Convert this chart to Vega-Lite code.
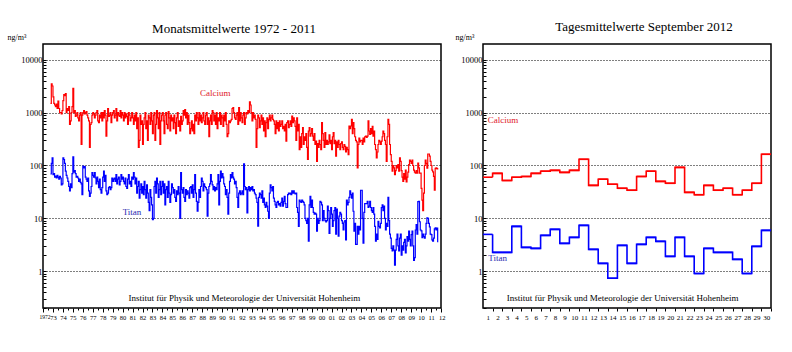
{
"$schema":"https://vega.github.io/schema/vega-lite/v6.json",
"background":"white",
"padding":{"left":6,"top":20,"right":4,"bottom":4},
"spacing":42,
"bounds":"flush",
"config":{"font":"Liberation Serif","view":{"stroke":"black","strokeWidth":1.5},
"title":{"font":"Liberation Serif","fontSize":13,"fontWeight":"normal","baseline":"alphabetic","anchor":"middle","frame":"group","color":"black"},
"axis":{"labelFont":"Liberation Serif","titleFont":"Liberation Serif","labelColor":"black","tickColor":"black","titleColor":"black"},
"axisX":{"labelOverlap":false},
"text":{"font":"Liberation Serif"}},
"datasets":{
"monthly":[
{"d":"1972-10","ca":1500,"ti":69},{"d":"1972-11","ca":3500,"ti":110},{"d":"1972-12","ca":3200,"ti":140},
{"d":"1973-01","ca":2000,"ti":67},{"d":"1973-02","ca":1500,"ti":70},{"d":"1973-03","ca":1400,"ti":60},{"d":"1973-04","ca":1300,"ti":63},{"d":"1973-05","ca":1450,"ti":58},{"d":"1973-06","ca":1200,"ti":65},{"d":"1973-07","ca":1650,"ti":60},{"d":"1973-08","ca":1200,"ti":55},{"d":"1973-09","ca":1000,"ti":62},{"d":"1973-10","ca":1000,"ti":58},{"d":"1973-11","ca":950,"ti":43},{"d":"1973-12","ca":1100,"ti":45},
{"d":"1974-01","ca":1700,"ti":140},{"d":"1974-02","ca":2200,"ti":130},{"d":"1974-03","ca":2100,"ti":110},{"d":"1974-04","ca":2300,"ti":78},{"d":"1974-05","ca":1000,"ti":65},{"d":"1974-06","ca":1200,"ti":58},{"d":"1974-07","ca":1100,"ti":50},{"d":"1974-08","ca":1300,"ti":40},{"d":"1974-09","ca":600,"ti":33},{"d":"1974-10","ca":700,"ti":45},{"d":"1974-11","ca":1000,"ti":38},{"d":"1974-12","ca":1300,"ti":70},
{"d":"1975-01","ca":2900,"ti":145},{"d":"1975-02","ca":1000,"ti":75},{"d":"1975-03","ca":1100,"ti":80},{"d":"1975-04","ca":850,"ti":70},{"d":"1975-05","ca":900,"ti":60},{"d":"1975-06","ca":1000,"ti":62},{"d":"1975-07","ca":800,"ti":58},{"d":"1975-08","ca":700,"ti":50},{"d":"1975-09","ca":900,"ti":55},{"d":"1975-10","ca":1000,"ti":48},{"d":"1975-11","ca":250,"ti":45},{"d":"1975-12","ca":900,"ti":28},
{"d":"1976-01","ca":1000,"ti":97},{"d":"1976-02","ca":1100,"ti":90},{"d":"1976-03","ca":950,"ti":95},{"d":"1976-04","ca":1000,"ti":60},{"d":"1976-05","ca":1050,"ti":55},{"d":"1976-06","ca":900,"ti":50},{"d":"1976-07","ca":800,"ti":58},{"d":"1976-08","ca":700,"ti":33},{"d":"1976-09","ca":220,"ti":26},{"d":"1976-10","ca":600,"ti":30},{"d":"1976-11","ca":650,"ti":40},{"d":"1976-12","ca":900,"ti":73},
{"d":"1977-01","ca":1000,"ti":65},{"d":"1977-02","ca":950,"ti":60},{"d":"1977-03","ca":800,"ti":73},{"d":"1977-04","ca":900,"ti":58},{"d":"1977-05","ca":1000,"ti":45},{"d":"1977-06","ca":1100,"ti":60},{"d":"1977-07","ca":700,"ti":50},{"d":"1977-08","ca":650,"ti":38},{"d":"1977-09","ca":900,"ti":55},{"d":"1977-10","ca":800,"ti":35},{"d":"1977-11","ca":1000,"ti":30},{"d":"1977-12","ca":700,"ti":38},
{"d":"1978-01","ca":1000,"ti":60},{"d":"1978-02","ca":800,"ti":78},{"d":"1978-03","ca":1100,"ti":50},{"d":"1978-04","ca":900,"ti":65},{"d":"1978-05","ca":360,"ti":33},{"d":"1978-06","ca":700,"ti":28},{"d":"1978-07","ca":1200,"ti":30},{"d":"1978-08","ca":850,"ti":38},{"d":"1978-09","ca":900,"ti":40},{"d":"1978-10","ca":1000,"ti":35},{"d":"1978-11","ca":650,"ti":38},{"d":"1978-12","ca":900,"ti":58},
{"d":"1979-01","ca":1000,"ti":50},{"d":"1979-02","ca":1100,"ti":55},{"d":"1979-03","ca":800,"ti":58},{"d":"1979-04","ca":900,"ti":50},{"d":"1979-05","ca":1200,"ti":67},{"d":"1979-06","ca":700,"ti":45},{"d":"1979-07","ca":1000,"ti":55},{"d":"1979-08","ca":900,"ti":60},{"d":"1979-09","ca":850,"ti":43},{"d":"1979-10","ca":1100,"ti":50},{"d":"1979-11","ca":800,"ti":67},{"d":"1979-12","ca":1000,"ti":55},
{"d":"1980-01","ca":900,"ti":60},{"d":"1980-02","ca":700,"ti":50},{"d":"1980-03","ca":1000,"ti":45},{"d":"1980-04","ca":800,"ti":58},{"d":"1980-05","ca":950,"ti":40},{"d":"1980-06","ca":850,"ti":37},{"d":"1980-07","ca":600,"ti":55},{"d":"1980-08","ca":1000,"ti":67},{"d":"1980-09","ca":900,"ti":45},{"d":"1980-10","ca":700,"ti":50},{"d":"1980-11","ca":800,"ti":40},{"d":"1980-12","ca":1000,"ti":60},
{"d":"1981-01","ca":800,"ti":55},{"d":"1981-02","ca":600,"ti":73},{"d":"1981-03","ca":900,"ti":60},{"d":"1981-04","ca":700,"ti":45},{"d":"1981-05","ca":1000,"ti":58},{"d":"1981-06","ca":500,"ti":30},{"d":"1981-07","ca":800,"ti":40},{"d":"1981-08","ca":220,"ti":50},{"d":"1981-09","ca":300,"ti":24},{"d":"1981-10","ca":900,"ti":35},{"d":"1981-11","ca":600,"ti":45},{"d":"1981-12","ca":700,"ti":30},
{"d":"1982-01","ca":250,"ti":40},{"d":"1982-02","ca":600,"ti":28},{"d":"1982-03","ca":800,"ti":50},{"d":"1982-04","ca":1000,"ti":35},{"d":"1982-05","ca":500,"ti":24},{"d":"1982-06","ca":700,"ti":43},{"d":"1982-07","ca":300,"ti":30},{"d":"1982-08","ca":900,"ti":20},{"d":"1982-09","ca":800,"ti":14},{"d":"1982-10","ca":600,"ti":35},{"d":"1982-11","ca":1000,"ti":25},{"d":"1982-12","ca":700,"ti":18},
{"d":"1983-01","ca":400,"ti":9.4},{"d":"1983-02","ca":900,"ti":10},{"d":"1983-03","ca":1000,"ti":40},{"d":"1983-04","ca":300,"ti":50},{"d":"1983-05","ca":600,"ti":30},{"d":"1983-06","ca":1100,"ti":58},{"d":"1983-07","ca":800,"ti":45},{"d":"1983-08","ca":500,"ti":25},{"d":"1983-09","ca":1000,"ti":35},{"d":"1983-10","ca":250,"ti":50},{"d":"1983-11","ca":700,"ti":28},{"d":"1983-12","ca":900,"ti":40},
{"d":"1984-01","ca":1000,"ti":50},{"d":"1984-02","ca":700,"ti":30},{"d":"1984-03","ca":400,"ti":45},{"d":"1984-04","ca":900,"ti":18},{"d":"1984-05","ca":1000,"ti":35},{"d":"1984-06","ca":600,"ti":40},{"d":"1984-07","ca":500,"ti":25},{"d":"1984-08","ca":1050,"ti":50},{"d":"1984-09","ca":800,"ti":30},{"d":"1984-10","ca":450,"ti":20},{"d":"1984-11","ca":900,"ti":28},{"d":"1984-12","ca":700,"ti":45},
{"d":"1985-01","ca":800,"ti":38},{"d":"1985-02","ca":500,"ti":30},{"d":"1985-03","ca":900,"ti":35},{"d":"1985-04","ca":650,"ti":25},{"d":"1985-05","ca":400,"ti":21},{"d":"1985-06","ca":800,"ti":33},{"d":"1985-07","ca":1000,"ti":28},{"d":"1985-08","ca":550,"ti":40},{"d":"1985-09","ca":700,"ti":30},{"d":"1985-10","ca":450,"ti":10},{"d":"1985-11","ca":850,"ti":73},{"d":"1985-12","ca":600,"ti":35},
{"d":"1986-01","ca":700,"ti":30},{"d":"1986-02","ca":1100,"ti":38},{"d":"1986-03","ca":900,"ti":25},{"d":"1986-04","ca":1150,"ti":21},{"d":"1986-05","ca":800,"ti":35},{"d":"1986-06","ca":1000,"ti":28},{"d":"1986-07","ca":600,"ti":33},{"d":"1986-08","ca":900,"ti":30},{"d":"1986-09","ca":650,"ti":24},{"d":"1986-10","ca":400,"ti":38},{"d":"1986-11","ca":500,"ti":40},{"d":"1986-12","ca":700,"ti":30},
{"d":"1987-01","ca":450,"ti":43},{"d":"1987-02","ca":600,"ti":25},{"d":"1987-03","ca":400,"ti":35},{"d":"1987-04","ca":900,"ti":67},{"d":"1987-05","ca":700,"ti":30},{"d":"1987-06","ca":1000,"ti":21},{"d":"1987-07","ca":800,"ti":13.6},{"d":"1987-08","ca":600,"ti":20},{"d":"1987-09","ca":1000,"ti":35},{"d":"1987-10","ca":700,"ti":25},{"d":"1987-11","ca":900,"ti":40},{"d":"1987-12","ca":650,"ti":58},
{"d":"1988-01","ca":800,"ti":50},{"d":"1988-02","ca":1000,"ti":33},{"d":"1988-03","ca":700,"ti":45},{"d":"1988-04","ca":600,"ti":40},{"d":"1988-05","ca":900,"ti":38},{"d":"1988-06","ca":1000,"ti":35},{"d":"1988-07","ca":600,"ti":11},{"d":"1988-08","ca":800,"ti":30},{"d":"1988-09","ca":350,"ti":40},{"d":"1988-10","ca":700,"ti":45},{"d":"1988-11","ca":900,"ti":67},{"d":"1988-12","ca":600,"ti":50},
{"d":"1989-01","ca":1100,"ti":43},{"d":"1989-02","ca":1000,"ti":35},{"d":"1989-03","ca":700,"ti":40},{"d":"1989-04","ca":900,"ti":33},{"d":"1989-05","ca":600,"ti":38},{"d":"1989-06","ca":1000,"ti":35},{"d":"1989-07","ca":500,"ti":45},{"d":"1989-08","ca":800,"ti":67},{"d":"1989-09","ca":700,"ti":18},{"d":"1989-10","ca":1000,"ti":50},{"d":"1989-11","ca":600,"ti":78},{"d":"1989-12","ca":900,"ti":58},
{"d":"1990-01","ca":800,"ti":70},{"d":"1990-02","ca":550,"ti":60},{"d":"1990-03","ca":900,"ti":45},{"d":"1990-04","ca":700,"ti":40},{"d":"1990-05","ca":1000,"ti":28},{"d":"1990-06","ca":600,"ti":35},{"d":"1990-07","ca":350,"ti":25},{"d":"1990-08","ca":400,"ti":12},{"d":"1990-09","ca":700,"ti":30},{"d":"1990-10","ca":650,"ti":50},{"d":"1990-11","ca":700,"ti":67},{"d":"1990-12","ca":750,"ti":58},
{"d":"1991-01","ca":1200,"ti":73},{"d":"1991-02","ca":1250,"ti":60},{"d":"1991-03","ca":1000,"ti":55},{"d":"1991-04","ca":800,"ti":45},{"d":"1991-05","ca":750,"ti":50},{"d":"1991-06","ca":900,"ti":38},{"d":"1991-07","ca":1000,"ti":25},{"d":"1991-08","ca":600,"ti":16},{"d":"1991-09","ca":1250,"ti":30},{"d":"1991-10","ca":700,"ti":33},{"d":"1991-11","ca":1000,"ti":28},{"d":"1991-12","ca":800,"ti":30},
{"d":"1992-01","ca":650,"ti":33},{"d":"1992-02","ca":900,"ti":28},{"d":"1992-03","ca":1000,"ti":107},{"d":"1992-04","ca":600,"ti":40},{"d":"1992-05","ca":800,"ti":35},{"d":"1992-06","ca":1000,"ti":38},{"d":"1992-07","ca":950,"ti":12.6},{"d":"1992-08","ca":1100,"ti":35},{"d":"1992-09","ca":1000,"ti":40},{"d":"1992-10","ca":1600,"ti":33},{"d":"1992-11","ca":1400,"ti":38},{"d":"1992-12","ca":1000,"ti":35},
{"d":"1993-01","ca":700,"ti":40},{"d":"1993-02","ca":1000,"ti":33},{"d":"1993-03","ca":800,"ti":35},{"d":"1993-04","ca":900,"ti":30},{"d":"1993-05","ca":750,"ti":28},{"d":"1993-06","ca":220,"ti":24},{"d":"1993-07","ca":500,"ti":20},{"d":"1993-08","ca":900,"ti":7.1},{"d":"1993-09","ca":800,"ti":25},{"d":"1993-10","ca":520,"ti":30},{"d":"1993-11","ca":700,"ti":28},{"d":"1993-12","ca":900,"ti":24},
{"d":"1994-01","ca":600,"ti":33},{"d":"1994-02","ca":800,"ti":20},{"d":"1994-03","ca":450,"ti":24},{"d":"1994-04","ca":700,"ti":18},{"d":"1994-05","ca":350,"ti":16},{"d":"1994-06","ca":650,"ti":20},{"d":"1994-07","ca":800,"ti":17},{"d":"1994-08","ca":500,"ti":13.6},{"d":"1994-09","ca":750,"ti":10},{"d":"1994-10","ca":900,"ti":30},{"d":"1994-11","ca":700,"ti":43},{"d":"1994-12","ca":800,"ti":38},
{"d":"1995-01","ca":900,"ti":33},{"d":"1995-02","ca":750,"ti":40},{"d":"1995-03","ca":700,"ti":24},{"d":"1995-04","ca":600,"ti":21},{"d":"1995-05","ca":400,"ti":18},{"d":"1995-06","ca":700,"ti":16},{"d":"1995-07","ca":500,"ti":20},{"d":"1995-08","ca":650,"ti":21},{"d":"1995-09","ca":450,"ti":18},{"d":"1995-10","ca":700,"ti":19},{"d":"1995-11","ca":550,"ti":17},{"d":"1995-12","ca":600,"ti":20},
{"d":"1996-01","ca":700,"ti":24},{"d":"1996-02","ca":500,"ti":17},{"d":"1996-03","ca":550,"ti":21},{"d":"1996-04","ca":450,"ti":26},{"d":"1996-05","ca":600,"ti":19},{"d":"1996-06","ca":290,"ti":16},{"d":"1996-07","ca":650,"ti":16},{"d":"1996-08","ca":700,"ti":28},{"d":"1996-09","ca":520,"ti":30},{"d":"1996-10","ca":600,"ti":29},{"d":"1996-11","ca":700,"ti":30},{"d":"1996-12","ca":550,"ti":28},
{"d":"1997-01","ca":860,"ti":33},{"d":"1997-02","ca":650,"ti":30},{"d":"1997-03","ca":800,"ti":33},{"d":"1997-04","ca":700,"ti":30},{"d":"1997-05","ca":550,"ti":29},{"d":"1997-06","ca":300,"ti":30},{"d":"1997-07","ca":800,"ti":16},{"d":"1997-08","ca":450,"ti":13},{"d":"1997-09","ca":600,"ti":7},{"d":"1997-10","ca":200,"ti":22},{"d":"1997-11","ca":350,"ti":21},{"d":"1997-12","ca":220,"ti":20},
{"d":"1998-01","ca":400,"ti":22},{"d":"1998-02","ca":520,"ti":21},{"d":"1998-03","ca":250,"ti":20},{"d":"1998-04","ca":350,"ti":18},{"d":"1998-05","ca":300,"ti":10},{"d":"1998-06","ca":400,"ti":9},{"d":"1998-07","ca":220,"ti":8},{"d":"1998-08","ca":130,"ti":10},{"d":"1998-09","ca":450,"ti":3.7},{"d":"1998-10","ca":520,"ti":18},{"d":"1998-11","ca":360,"ti":26},{"d":"1998-12","ca":400,"ti":16},
{"d":"1999-01","ca":500,"ti":22},{"d":"1999-02","ca":360,"ti":16},{"d":"1999-03","ca":300,"ti":13},{"d":"1999-04","ca":400,"ti":12},{"d":"1999-05","ca":250,"ti":12.5},{"d":"1999-06","ca":290,"ti":12},{"d":"1999-07","ca":120,"ti":5.7},{"d":"1999-08","ca":260,"ti":10},{"d":"1999-09","ca":220,"ti":8},{"d":"1999-10","ca":300,"ti":9},{"d":"1999-11","ca":250,"ti":21},{"d":"1999-12","ca":200,"ti":20},
{"d":"2000-01","ca":650,"ti":18},{"d":"2000-02","ca":400,"ti":9},{"d":"2000-03","ca":300,"ti":14},{"d":"2000-04","ca":220,"ti":10},{"d":"2000-05","ca":420,"ti":9},{"d":"2000-06","ca":250,"ti":8.5},{"d":"2000-07","ca":300,"ti":9},{"d":"2000-08","ca":250,"ti":17},{"d":"2000-09","ca":280,"ti":14},{"d":"2000-10","ca":380,"ti":5.2},{"d":"2000-11","ca":260,"ti":10},{"d":"2000-12","ca":300,"ti":16},
{"d":"2001-01","ca":200,"ti":12},{"d":"2001-02","ca":350,"ti":7},{"d":"2001-03","ca":420,"ti":9},{"d":"2001-04","ca":260,"ti":14},{"d":"2001-05","ca":300,"ti":16},{"d":"2001-06","ca":150,"ti":5},{"d":"2001-07","ca":280,"ti":15},{"d":"2001-08","ca":220,"ti":10},{"d":"2001-09","ca":300,"ti":4.6},{"d":"2001-10","ca":250,"ti":11},{"d":"2001-11","ca":200,"ti":13},{"d":"2001-12","ca":260,"ti":12},
{"d":"2002-01","ca":280,"ti":9},{"d":"2002-02","ca":220,"ti":8},{"d":"2002-03","ca":200,"ti":6},{"d":"2002-04","ca":250,"ti":8.5},{"d":"2002-05","ca":230,"ti":9},{"d":"2002-06","ca":180,"ti":3.9},{"d":"2002-07","ca":220,"ti":22},{"d":"2002-08","ca":200,"ti":18},{"d":"2002-09","ca":160,"ti":20},{"d":"2002-10","ca":560,"ti":25},{"d":"2002-11","ca":500,"ti":33},{"d":"2002-12","ca":560,"ti":28},
{"d":"2003-01","ca":750,"ti":24},{"d":"2003-02","ca":400,"ti":30},{"d":"2003-03","ca":650,"ti":13.6},{"d":"2003-04","ca":500,"ti":5.7},{"d":"2003-05","ca":350,"ti":8},{"d":"2003-06","ca":300,"ti":3.2},{"d":"2003-07","ca":280,"ti":3.2},{"d":"2003-08","ca":90,"ti":7},{"d":"2003-09","ca":250,"ti":5},{"d":"2003-10","ca":330,"ti":7},{"d":"2003-11","ca":280,"ti":6},{"d":"2003-12","ca":300,"ti":34},
{"d":"2004-01","ca":300,"ti":34},{"d":"2004-02","ca":250,"ti":10},{"d":"2004-03","ca":330,"ti":3.4},{"d":"2004-04","ca":280,"ti":13},{"d":"2004-05","ca":350,"ti":19},{"d":"2004-06","ca":360,"ti":19},{"d":"2004-07","ca":340,"ti":19},{"d":"2004-08","ca":360,"ti":21},{"d":"2004-09","ca":700,"ti":16},{"d":"2004-10","ca":450,"ti":17},{"d":"2004-11","ca":390,"ti":21},{"d":"2004-12","ca":500,"ti":16},
{"d":"2005-01","ca":400,"ti":14},{"d":"2005-02","ca":550,"ti":13},{"d":"2005-03","ca":360,"ti":16},{"d":"2005-04","ca":450,"ti":12},{"d":"2005-05","ca":250,"ti":7},{"d":"2005-06","ca":200,"ti":3.7},{"d":"2005-07","ca":140,"ti":5},{"d":"2005-08","ca":180,"ti":4},{"d":"2005-09","ca":250,"ti":8.8},{"d":"2005-10","ca":300,"ti":7},{"d":"2005-11","ca":280,"ti":6.6},{"d":"2005-12","ca":250,"ti":8},
{"d":"2006-01","ca":290,"ti":16},{"d":"2006-02","ca":350,"ti":18},{"d":"2006-03","ca":450,"ti":14},{"d":"2006-04","ca":400,"ti":17},{"d":"2006-05","ca":300,"ti":10},{"d":"2006-06","ca":250,"ti":6},{"d":"2006-07","ca":120,"ti":8},{"d":"2006-08","ca":350,"ti":7},{"d":"2006-09","ca":750,"ti":25},{"d":"2006-10","ca":600,"ti":9},{"d":"2006-11","ca":250,"ti":5},{"d":"2006-12","ca":160,"ti":4.2},
{"d":"2007-01","ca":120,"ti":2.7},{"d":"2007-02","ca":78,"ti":2.4},{"d":"2007-03","ca":100,"ti":3},{"d":"2007-04","ca":90,"ti":2.5},{"d":"2007-05","ca":67,"ti":1.3},{"d":"2007-06","ca":80,"ti":2.5},{"d":"2007-07","ca":100,"ti":4},{"d":"2007-08","ca":90,"ti":5},{"d":"2007-09","ca":104,"ti":3},{"d":"2007-10","ca":78,"ti":2.4},{"d":"2007-11","ca":140,"ti":4.2},{"d":"2007-12","ca":120,"ti":5},
{"d":"2008-01","ca":80,"ti":2},{"d":"2008-02","ca":60,"ti":3},{"d":"2008-03","ca":50,"ti":2.5},{"d":"2008-04","ca":70,"ti":3.5},{"d":"2008-05","ca":55,"ti":4},{"d":"2008-06","ca":82,"ti":2.2},{"d":"2008-07","ca":49,"ti":3},{"d":"2008-08","ca":60,"ti":4.5},{"d":"2008-09","ca":75,"ti":3.7},{"d":"2008-10","ca":104,"ti":5.7},{"d":"2008-11","ca":126,"ti":4},{"d":"2008-12","ca":120,"ti":3},
{"d":"2009-01","ca":110,"ti":4.9},{"d":"2009-02","ca":126,"ti":5.7},{"d":"2009-03","ca":100,"ti":3},{"d":"2009-04","ca":82,"ti":1.6},{"d":"2009-05","ca":75,"ti":1.8},{"d":"2009-06","ca":72,"ti":6},{"d":"2009-07","ca":80,"ti":7.6},{"d":"2009-08","ca":72,"ti":5},{"d":"2009-09","ca":111,"ti":20.6},{"d":"2009-10","ca":90,"ti":21},{"d":"2009-11","ca":72,"ti":8.6},{"d":"2009-12","ca":72,"ti":6},
{"d":"2010-01","ca":37,"ti":5.8},{"d":"2010-02","ca":22,"ti":4.3},{"d":"2010-03","ca":14,"ti":5},{"d":"2010-04","ca":30,"ti":4.5},{"d":"2010-05","ca":100,"ti":4.2},{"d":"2010-06","ca":126,"ti":5},{"d":"2010-07","ca":110,"ti":8},{"d":"2010-08","ca":89,"ti":10.2},{"d":"2010-09","ca":165,"ti":10},{"d":"2010-10","ca":165,"ti":8},{"d":"2010-11","ca":150,"ti":6.9},{"d":"2010-12","ca":120,"ti":5},
{"d":"2011-01","ca":100,"ti":4.9},{"d":"2011-02","ca":82,"ti":3.9},{"d":"2011-03","ca":76,"ti":3.7},{"d":"2011-04","ca":62,"ti":4.2},{"d":"2011-05","ca":34,"ti":6.3},{"d":"2011-06","ca":88,"ti":6.6},{"d":"2011-07","ca":90,"ti":6},{"d":"2011-08","ca":86,"ti":6.5},{"d":"2011-09","ca":90,"ti":3.5}
],
"daily":[
{"day":1,"ca":60,"ti":4.96},{"day":2,"ca":71,"ti":2.26},{"day":3,"ca":52,"ti":2.26},{"day":4,"ca":60,"ti":7.03},{"day":5,"ca":62,"ti":2.81},{"day":6,"ca":71,"ti":2.69},{"day":7,"ca":78,"ti":4.75},{"day":8,"ca":81,"ti":6.18},{"day":9,"ca":74,"ti":3.35},{"day":10,"ca":81,"ti":4.35},
{"day":11,"ca":131,"ti":7.35},{"day":12,"ca":42,"ti":2.58},{"day":13,"ca":55,"ti":1.4},{"day":14,"ca":44,"ti":0.73},{"day":15,"ca":37,"ti":3.07},{"day":16,"ca":34,"ti":1.4},{"day":17,"ca":62,"ti":3.21},{"day":18,"ca":78,"ti":4.35},{"day":19,"ca":50,"ti":3.66},{"day":20,"ca":46,"ti":1.9},
{"day":21,"ca":92,"ti":4.35},{"day":22,"ca":31,"ti":1.9},{"day":23,"ca":28,"ti":0.9},{"day":24,"ca":42,"ti":2.69},{"day":25,"ca":34,"ti":2.26},{"day":26,"ca":37,"ti":2.26},{"day":27,"ca":28,"ti":1.67},{"day":28,"ca":34,"ti":0.9},{"day":29,"ca":46,"ti":2.94},{"day":30,"ca":163,"ti":5.91}
]
},
"hconcat":[
{
"width":398,"height":264,
"title":{"text":"Monatsmittelwerte 1972 - 2011","offset":-3,"dx":-8},
"layer":[
{"data":{"name":"monthly"},
"transform":[{"fold":["ca","ti"],"as":["k","v"]}],
"mark":{"type":"line","interpolate":"step-after","strokeWidth":1.2},
"encoding":{
"x":{"field":"d","type":"temporal","scale":{"domain":[{"year":1972,"month":1,"date":1},{"year":2012,"month":1,"date":1}],"nice":false},
"axis":{"title":null,"tickCount":{"interval":"month","step":6},"labelExpr":"month(datum.value)==0 ? (year(datum.value)==1972 ? '1972' : timeFormat(datum.value, '%y')) : ''","tickSize":{"condition":{"test":"month(datum.value)==0","value":4},"value":2},"labelFontSize":{"condition":{"test":"year(datum.value)==1972","value":5.5},"value":6.5},"labelPadding":2,"grid":false,"domain":false,"labelOverlap":false,"labelFlush":true,"labelFlushOffset":4,"labelBound":false,"labelAngle":0}},
"y":{"field":"v","type":"quantitative","scale":{"type":"log","domain":[0.2,20000],"nice":false},
"axis":{"values":[0.2,0.3,0.4,0.5,0.6,0.7,0.8,0.9,1,2,3,4,5,6,7,8,9,10,20,30,40,50,60,70,80,90,100,200,300,400,500,600,700,800,900,1000,2000,3000,4000,5000,6000,7000,8000,9000,10000],
"labelExpr":"indexof([1,10,100,1000,10000], datum.value) >= 0 ? toString(datum.value) : ''",
"title":"ng/m³","titleAngle":0,"titleAlign":"left","titleBaseline":"alphabetic","titleX":-36,"titleY":-5,"titleFontSize":8,"titleFontWeight":"normal",
"labelFontSize":8.5,"labelPadding":4,"tickSize":-3,"domain":false,"labelOverlap":false,"labelFlush":false,"labelBound":false,
"grid":true,"gridColor":"black","gridDash":[1,2],"gridWidth":1.1,"gridOpacity":{"condition":{"test":"indexof([1,10,100,1000,10000], datum.value) >= 0","value":1},"value":0}}},
"color":{"field":"k","type":"nominal","scale":{"domain":["ca","ti"],"range":["#ff0000","#0000ff"]},"legend":null}}},
{"data":{"values":[{}]},"mark":{"type":"text","text":"Calcium","align":"center","baseline":"alphabetic","fontSize":9,"color":"#e0202a"},
"encoding":{"x":{"datum":{"year":1989,"month":4,"date":20},"type":"temporal"},"y":{"datum":2090,"type":"quantitative"}}},
{"data":{"values":[{}]},"mark":{"type":"text","text":"Titan","align":"center","baseline":"alphabetic","fontSize":9,"color":"#2a2ab0"},
"encoding":{"x":{"datum":{"year":1980,"month":12,"date":10},"type":"temporal"},"y":{"datum":11.5,"type":"quantitative"}}},
{"data":{"values":[{}]},"mark":{"type":"text","text":"Institut für Physik und Meteorologie der Universität Hohenheim","align":"center","baseline":"alphabetic","fontSize":9,"color":"black"},
"encoding":{"x":{"datum":{"year":1992,"month":3,"date":25},"type":"temporal"},"y":{"datum":0.27,"type":"quantitative"}}}
]
},
{
"width":288,"height":264,
"title":{"text":"Tagesmittelwerte September 2012","offset":-1,"dx":17},
"resolve":{"axis":{"x":"independent"}},
"layer":[
{"data":{"name":"daily"},
"transform":[{"fold":["ca","ti"],"as":["k","v"]}],
"mark":{"type":"line","interpolate":"step-before","strokeWidth":1.6},
"encoding":{
"x":{"field":"day","type":"quantitative","scale":{"domain":[0,30],"nice":false,"zero":false},
"axis":{"title":null,"orient":"bottom","values":[1,2,3,4,5,6,7,8,9,10,11,12,13,14,15,16,17,18,19,20,21,22,23,24,25,26,27,28,29,30],"format":"d","labelOffset":-4.8,"tickSize":3,"labelFontSize":7,"labelPadding":2,"grid":false,"domain":false,"labelOverlap":false,"labelFlush":false,"labelBound":false,"labelAngle":0}},
"y":{"field":"v","type":"quantitative","scale":{"type":"log","domain":[0.2,20000],"nice":false},
"axis":{"values":[0.2,0.3,0.4,0.5,0.6,0.7,0.8,0.9,1,2,3,4,5,6,7,8,9,10,20,30,40,50,60,70,80,90,100,200,300,400,500,600,700,800,900,1000,2000,3000,4000,5000,6000,7000,8000,9000,10000],
"labelExpr":"indexof([1,10,100,1000,10000], datum.value) >= 0 ? toString(datum.value) : ''",
"title":"ng/m³","titleAngle":0,"titleAlign":"left","titleBaseline":"alphabetic","titleX":-28,"titleY":-5,"titleFontSize":8,"titleFontWeight":"normal",
"labelFontSize":8.5,"labelPadding":4,"tickSize":-3,"domain":false,"labelOverlap":false,"labelFlush":false,"labelBound":false,
"grid":true,"gridColor":"black","gridDash":[1,2],"gridWidth":1.1,"gridOpacity":{"condition":{"test":"indexof([1,10,100,1000,10000], datum.value) >= 0","value":1},"value":0}}},
"color":{"field":"k","type":"nominal","scale":{"domain":["ca","ti"],"range":["#ff0000","#0000ff"]},"legend":null}}},
{"data":{"name":"daily"},
"transform":[{"fold":["ca","ti"],"as":["k","v"]}],
"mark":{"type":"tick","orient":"horizontal","xOffset":-4.8,"size":9.6,"thickness":1.6,"opacity":1},
"encoding":{"x":{"field":"day","type":"quantitative","axis":null},
"y":{"field":"v","type":"quantitative"},
"color":{"field":"k","type":"nominal","legend":null}}},
{"data":{"values":[{}]},"mark":{"type":"text","text":"Calcium","align":"left","baseline":"alphabetic","fontSize":9,"color":"#e0202a"},
"encoding":{"x":{"datum":0.49,"type":"quantitative","axis":null},"y":{"datum":640,"type":"quantitative"}}},
{"data":{"values":[{}]},"mark":{"type":"text","text":"Titan","align":"left","baseline":"alphabetic","fontSize":9,"color":"#2a2ab0"},
"encoding":{"x":{"datum":0.55,"type":"quantitative","axis":null},"y":{"datum":1.55,"type":"quantitative"}}},
{"data":{"values":[{}]},"mark":{"type":"text","text":"Institut für Physik und Meteorologie der Universität Hohenheim","align":"center","baseline":"alphabetic","fontSize":9,"color":"black"},
"encoding":{"x":{"datum":14.55,"type":"quantitative","axis":null},"y":{"datum":0.27,"type":"quantitative"}}}
]
}
]
}
